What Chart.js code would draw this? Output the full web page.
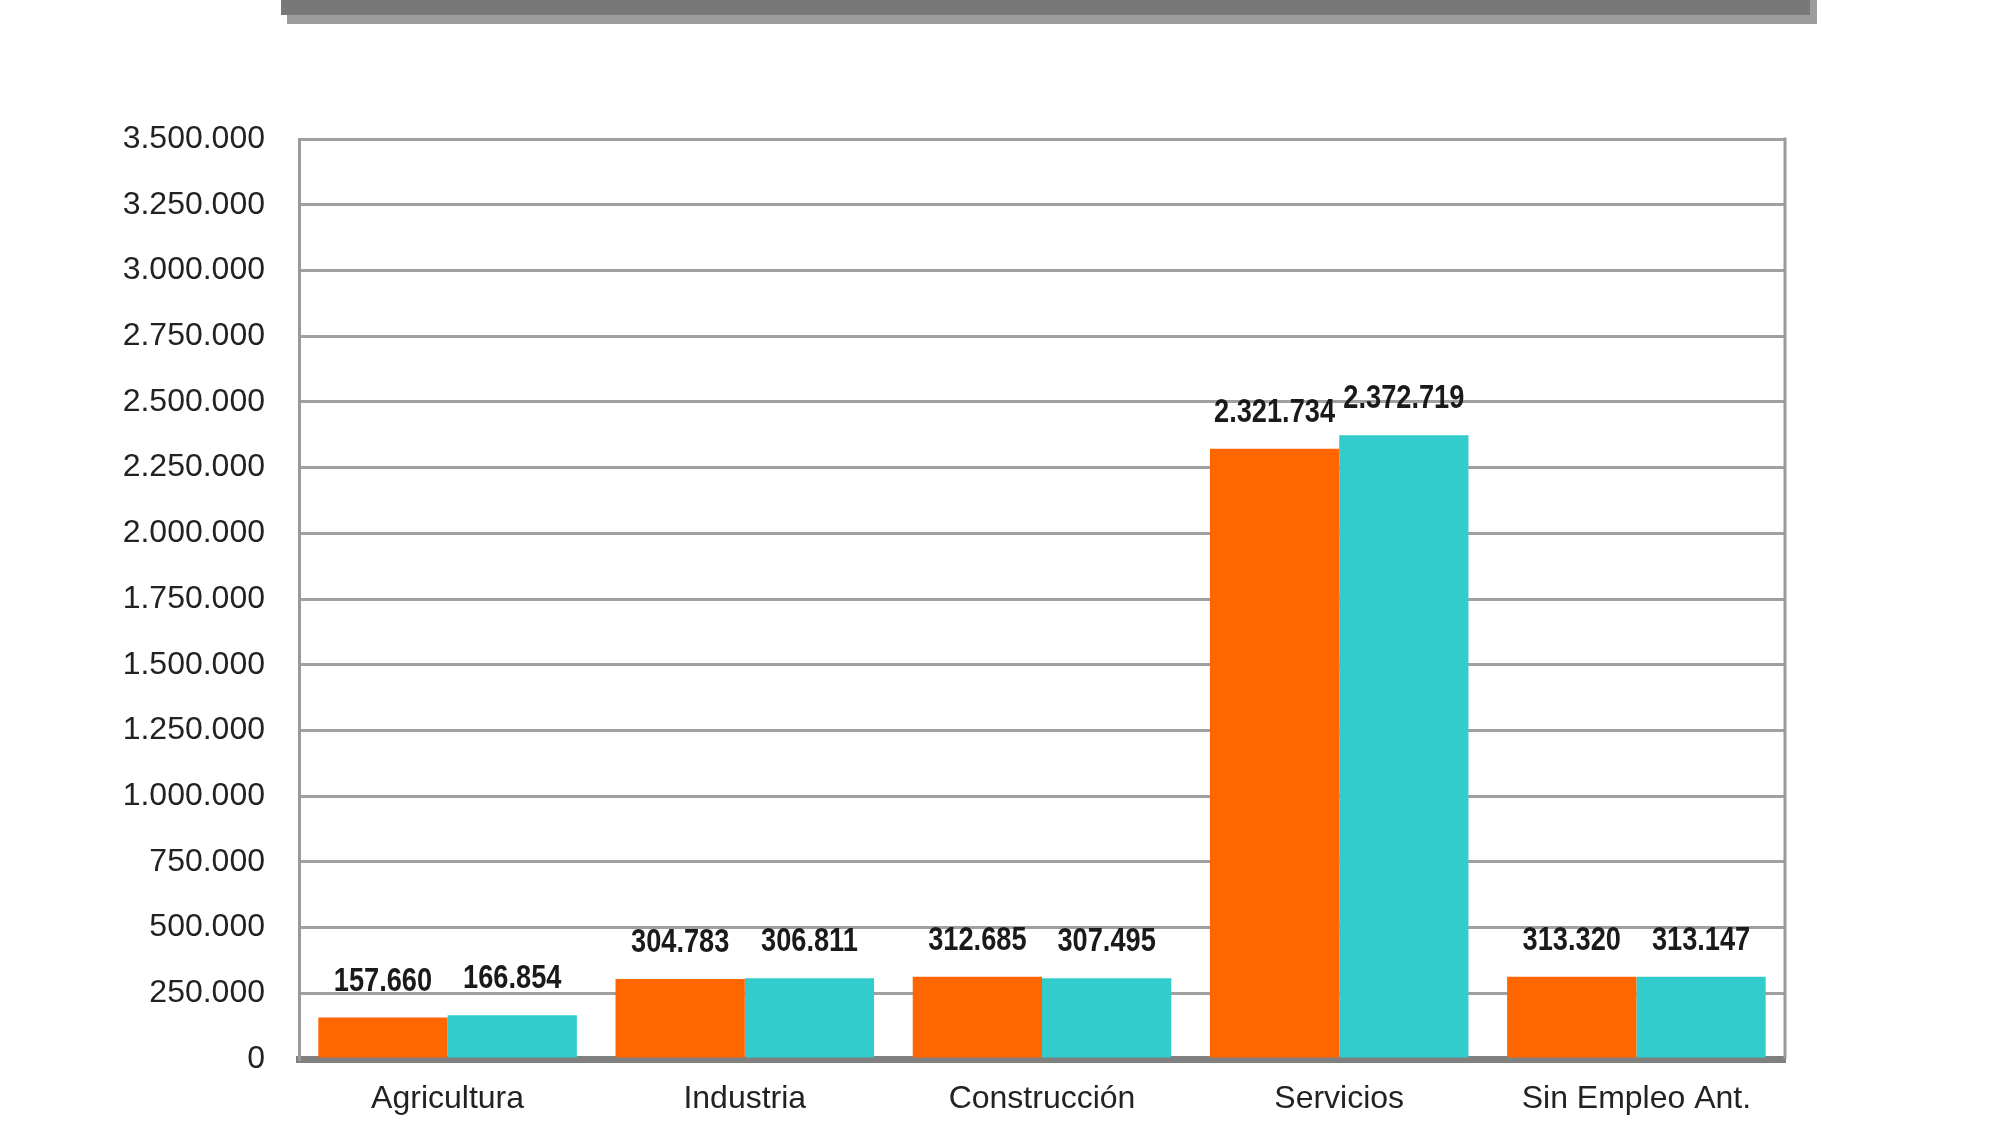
<!DOCTYPE html>
<html>
<head>
<meta charset="utf-8">
<script src="https://cdn.jsdelivr.net/npm/chart.js@4.4.1/dist/chart.umd.min.js"></script>
<style>
  html, body { margin: 0; padding: 0; background: #fff; }
  #wrap { width: 2000px; height: 1143px; }
</style>
</head>
<body>
<div id="wrap"><canvas id="chart"></canvas></div>
<script>
const categories = ["Agricultura", "Industria", "Construcción", "Servicios", "Sin Empleo Ant."];
const serie1 = [157660, 304783, 312685, 2321734, 313320];
const serie2 = [166854, 306811, 307495, 2372719, 313147];
const yMax = 3500000;
const yStep = 250000;

const fuente = "'Liberation Sans', Arial, sans-serif";

function miles(v) {
  return String(v).replace(/\B(?=(\d{3})+(?!\d))/g, ".");
}

// banda gris de arriba y borde derecho del area
const marco = {
  id: "marco",
  beforeDraw(chart) {
    const ctx = chart.ctx;
    ctx.save();
    ctx.fillStyle = "#9c9c9c";
    ctx.fillRect(287, 0, 1530, 24);
    ctx.fillStyle = "#787878";
    ctx.fillRect(281, 0, 1529, 15);
    ctx.restore();
  },
  afterDatasetsDraw(chart) {
    const ctx = chart.ctx;
    const a = chart.chartArea;
    ctx.save();
    ctx.strokeStyle = "#9a9a9a";
    ctx.lineWidth = 3;
    ctx.beginPath();
    ctx.moveTo(a.right, a.top - 1.5);
    ctx.lineTo(a.right, a.bottom);
    ctx.stroke();
    ctx.restore();
  }
};

// valores encima de cada barra, negrita estrecha
const etiquetas = {
  id: "etiquetas",
  afterDatasetsDraw(chart) {
    const ctx = chart.ctx;
    const sx = 0.8;
    ctx.save();
    ctx.font = "bold 34px " + fuente;
    ctx.fillStyle = "#1a1a1a";
    ctx.textAlign = "center";
    ctx.textBaseline = "alphabetic";
    chart.data.datasets.forEach((ds, i) => {
      chart.getDatasetMeta(i).data.forEach((bar, j) => {
        ctx.save();
        ctx.translate(bar.x, bar.y - 27);
        ctx.scale(sx, 1);
        ctx.fillText(miles(ds.data[j]), 0, 0);
        ctx.restore();
      });
    });
    ctx.restore();
  }
};

new Chart(document.getElementById("chart"), {
  type: "bar",
  data: {
    labels: categories,
    datasets: [
      { label: "serie1", data: serie1, backgroundColor: "#ff6600", borderWidth: 0 },
      { label: "serie2", data: serie2, backgroundColor: "#33cccc", borderWidth: 0 }
    ]
  },
  options: {
    responsive: true,
    maintainAspectRatio: false,
    animation: false,
    layout: { padding: { left: 0, right: 215, top: 139, bottom: 0 } },
    plugins: {
      legend: { display: false },
      tooltip: { enabled: false }
    },
    datasets: {
      bar: { categoryPercentage: 0.87, barPercentage: 1.0 }
    },
    scales: {
      x: {
        grid: { display: false, drawTicks: false },
        border: { display: true, color: "#808080", width: 7 },
        ticks: {
          color: "#222",
          font: { family: fuente, size: 32 },
          padding: 21
        },
        afterFit(s) { s.height = 84; }
      },
      y: {
        min: 0,
        max: yMax,
        grid: { color: "#a0a0a0", lineWidth: 3, drawTicks: false },
        border: { display: true, color: "#9a9a9a", width: 3 },
        ticks: {
          stepSize: yStep,
          color: "#222",
          font: { family: fuente, size: 32 },
          padding: 34,
          callback: (v) => miles(v)
        },
        afterFit(s) { s.width = 299; }
      }
    }
  },
  plugins: [marco, etiquetas]
});
</script>
</body>
</html>
